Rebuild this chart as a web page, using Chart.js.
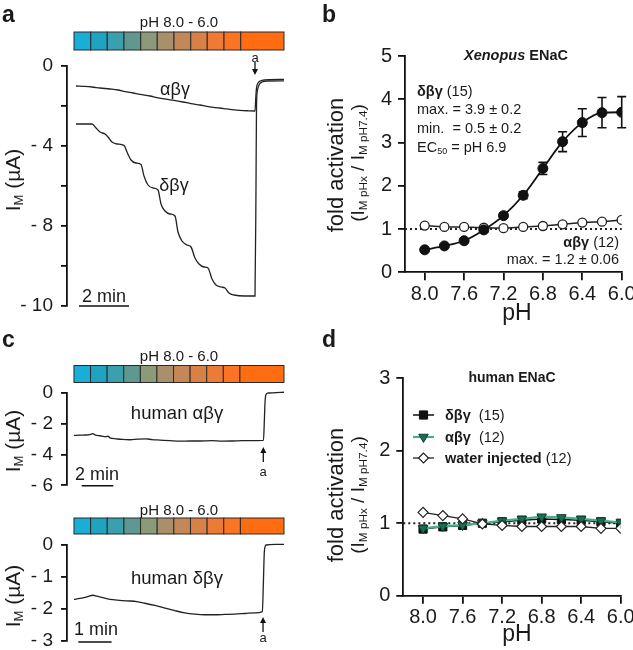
<!DOCTYPE html>
<html>
<head>
<meta charset="utf-8">
<script src="https://cdn.jsdelivr.net/npm/chart.js@4.4.1/dist/chart.umd.min.js"></script>
<style>
  html, body { margin: 0; padding: 0; background: #fff; }
  #fig { position: relative; width: 633px; height: 650px; overflow: hidden;
         font-family: "Liberation Sans", Arial, sans-serif; color: #1a1a1a; }
  #fig canvas { position: absolute; left: 0; top: 0; }
  .t { position: absolute; line-height: 1; white-space: nowrap; }
  .t sub { font-size: 0.62em; vertical-align: -0.3em; line-height: 0; }
</style>
</head>
<body>
<div id="fig">
  <canvas id="chartA" width="633" height="650"></canvas>
  <canvas id="chartB" width="633" height="650"></canvas>
  <canvas id="chartC1" width="633" height="650"></canvas>
  <canvas id="chartC2" width="633" height="650"></canvas>
  <canvas id="chartD" width="633" height="650"></canvas>
</div>
<script>
// ---- pH protocol (same colour code in every recording) ----
const phSteps = [8.0, 7.8, 7.6, 7.4, 7.2, 7.0, 6.8, 6.6, 6.4, 6.2, 6.0];
const phColors = ['#1aaed6', '#1ea4c0', '#3a9fae', '#5e9890', '#8b9a78', '#a98f6c',
                  '#c48758', '#d88147', '#ee7b35', '#fb7424', '#ff6c12'];
const phTicks = [8.0, 7.6, 7.2, 6.8, 6.4, 6.0];

// ---- a: Xenopus ENaC traces (time in min, current in µA) ----
const aStepStart = [0, 0.67, 1.33, 2, 2.67, 3.33, 4, 4.67, 5.33, 6, 6.67];
const aAbgT = [0.08, 0.44, 0.72, 1.04, 1.44, 1.76, 2.04, 2.36, 2.64, 3.04, 3.32, 3.68, 4.0, 4.36,
               4.68, 5.04, 5.32, 5.68, 6.0, 6.32, 6.64, 6.96, 7.24, 7.27, 7.3, 7.36, 7.52, 7.84, 8.4];
const aAbgI = [-1.0, -1.02, -1.05, -1.1, -1.15, -1.2, -1.28, -1.35, -1.42, -1.5, -1.58, -1.66, -1.72, -1.8,
               -1.88, -1.95, -2.02, -2.08, -2.13, -2.18, -2.22, -2.24, -2.25, -1.6, -1.1, -0.85, -0.72, -0.68, -0.67];
const aDbgT = [0.08, 0.72, 0.88, 1.04, 1.24, 1.36, 1.52, 1.72, 2.0, 2.12, 2.28, 2.48, 2.68, 2.8, 2.96,
               3.16, 3.36, 3.48, 3.64, 3.84, 4.04, 4.16, 4.32, 4.52, 4.68, 4.84, 5.0, 5.2, 5.36, 5.52,
               5.68, 5.88, 6.04, 6.2, 6.4, 6.84, 7.24, 7.28, 7.3, 7.34, 7.4, 7.52, 7.76, 8.4];
const aDbgI = [-2.9, -2.9, -3.1, -3.3, -3.4, -3.55, -3.8, -3.9, -3.97, -4.3, -4.7, -4.85, -4.92, -5.5, -5.95,
               -6.1, -6.2, -6.9, -7.25, -7.4, -7.5, -8.3, -8.75, -8.95, -9.05, -9.6, -9.9, -10.05, -10.1, -10.65,
               -10.95, -11.05, -11.1, -11.35, -11.45, -11.5, -11.5, -6.0, -2.0, -1.2, -0.95, -0.8, -0.75, -0.74];
const aTickVals = [0, -2, -4, -6, -8, -10, -12];
const aTickLabels = ['0', '', '- 4', '', '- 8', '', '- 10'];

// ---- c: human ENaC traces ----
const c1StepStart = [0, 1.05, 2.1, 3.15, 4.2, 5.25, 6.3, 7.35, 8.4, 9.45, 10.5];
const c1T = [0, 0.38, 0.76, 1.01, 1.2, 1.33, 1.65, 2.03, 2.15, 2.28, 2.66, 3.04, 3.54, 4.05, 4.56, 4.94,
             5.44, 6.08, 6.71, 7.34, 7.97, 8.73, 9.37, 10.0, 10.63, 11.27, 11.99, 12.04, 12.09, 12.15,
             12.28, 12.78, 13.29];
const c1I = [-2.76, -2.74, -2.73, -2.7, -2.64, -2.72, -2.78, -2.84, -2.8, -2.92, -2.98, -3.02, -3.04, -3.0,
             -2.98, -3.03, -3.06, -3.1, -3.13, -3.12, -3.12, -3.1, -3.13, -3.12, -3.1, -3.09, -3.08, -2.0,
             -0.6, -0.1, 0.0, 0.03, 0.05];
const c1TickVals = [0, -2, -4, -6];
const c1TickLabels = ['0', '- 2', '- 4', '- 6'];

const c2StepStart = [0, 0.5, 1.0, 1.5, 2.0, 2.5, 3.0, 3.5, 4.0, 4.5, 5.0];
const c2T = [0, 0.18, 0.39, 0.57, 0.69, 0.93, 1.17, 1.44, 1.68, 1.89, 2.13, 2.43, 2.73, 3.03, 3.33,
             3.63, 3.93, 4.23, 4.53, 4.83, 5.14, 5.44, 5.66, 5.69, 5.72, 5.77, 6.04, 6.31];
const c2I = [-1.7, -1.67, -1.62, -1.57, -1.6, -1.66, -1.71, -1.74, -1.75, -1.77, -1.82, -1.89, -1.97, -2.05,
             -2.12, -2.16, -2.18, -2.18, -2.17, -2.16, -2.14, -2.12, -2.08, -1.2, -0.2, 0.0, 0.02, 0.02];
const c2TickVals = [0, -1, -2, -3];
const c2TickLabels = ['0', '- 1', '- 2', '- 3'];

// ---- b: Xenopus ENaC pH response (fold activation) ----
const bDbg = [0.52, 0.61, 0.73, 0.98, 1.31, 1.78, 2.40, 3.02, 3.46, 3.69, 3.70];
const bDbgSem = [0.03, 0.03, 0.04, 0.05, 0.06, 0.08, 0.14, 0.23, 0.32, 0.35, 0.36];
const bAbg = [1.08, 1.05, 1.05, 1.03, 1.02, 1.05, 1.07, 1.11, 1.15, 1.17, 1.21];

// ---- d: human ENaC pH response ----
const dDbg = [0.92, 0.95, 0.97, 1.0, 1.02, 1.04, 1.06, 1.05, 1.04, 1.02, 1.0];
const dAbg = [0.93, 0.96, 0.975, 1.0, 1.035, 1.06, 1.09, 1.08, 1.06, 1.035, 1.01];
const dWater = [1.15, 1.105, 1.06, 0.99, 0.97, 0.955, 0.955, 0.955, 0.955, 0.93, 0.93];

// dotted reference line at fold activation = 1
const refPh = [8.2, 6.0];
const refY = [1, 1];

Chart.defaults.font.family = '"Liberation Sans", Arial, sans-serif';
Chart.defaults.color = '#1a1a1a';

const fig = document.getElementById('fig');
const xy = (xs, ys) => xs.map((x, i) => ({ x: x, y: ys[i] }));

function txt(html, x, y, size, opt) {
  opt = opt || {};
  const d = document.createElement('div');
  d.className = 't';
  d.innerHTML = html;
  d.style.left = x + 'px';
  d.style.top = y + 'px';
  d.style.fontSize = size + 'px';
  if (opt.bold) d.style.fontWeight = 'bold';
  const ax = opt.align === 'left' ? '0' : (opt.align === 'right' ? '-100%' : '-50%');
  d.style.transform = 'translate(' + ax + ',-50%)' + (opt.rot ? ' rotate(-90deg)' : '');
  fig.appendChild(d);
}

const axisBorder = { display: true, color: '#111', width: 1.8 };
function tickGrid(len) {
  return { display: true, drawOnChartArea: false, drawTicks: true, tickLength: len, color: '#111', lineWidth: 1.8 };
}

// colour bar, time scale bar and amiloride arrow for current traces
const traceDeco = {
  id: 'traceDeco',
  afterDraw(chart, args, o) {
    const ctx = chart.ctx, xs = chart.scales.x, area = chart.chartArea;
    ctx.save();
    const yb = area.top - o.barGap - o.barH;
    o.steps.forEach((t0, k) => {
      const t1 = k + 1 < o.steps.length ? o.steps[k + 1] : xs.max;
      const x0 = xs.getPixelForValue(t0), x1 = xs.getPixelForValue(t1);
      ctx.fillStyle = phColors[k];
      ctx.fillRect(x0, yb, x1 - x0, o.barH);
      ctx.strokeStyle = '#2a2a2a';
      ctx.lineWidth = 1;
      ctx.strokeRect(x0, yb, x1 - x0, o.barH);
    });
    // scale bar
    const sy = area.bottom + o.sbOff;
    ctx.strokeStyle = '#111';
    ctx.lineWidth = 1.6;
    ctx.beginPath();
    ctx.moveTo(xs.getPixelForValue(o.sb[0]), sy);
    ctx.lineTo(xs.getPixelForValue(o.sb[1]), sy);
    ctx.stroke();
    // arrow
    const ax = xs.getPixelForValue(o.arrowT);
    const dir = o.arrowTip > o.arrowTail ? 1 : -1;
    ctx.lineWidth = 1.3;
    ctx.beginPath();
    ctx.moveTo(ax, o.arrowTail);
    ctx.lineTo(ax, o.arrowTip - dir * 4);
    ctx.stroke();
    ctx.fillStyle = '#111';
    ctx.beginPath();
    ctx.moveTo(ax, o.arrowTip);
    ctx.lineTo(ax - 3, o.arrowTip - dir * 6);
    ctx.lineTo(ax + 3, o.arrowTip - dir * 6);
    ctx.closePath();
    ctx.fill();
    ctx.restore();
  }
};

function traceChart(id, traces, cfg) {
  return new Chart(document.getElementById(id), {
    type: 'line',
    data: {
      datasets: traces.map(tr => ({
        data: xy(tr[0], tr[1]),
        borderColor: '#222', borderWidth: 1.3, pointRadius: 0,
        cubicInterpolationMode: 'monotone', clip: false
      }))
    },
    options: {
      responsive: false, animation: false, events: [],
      layout: { padding: cfg.pad },
      plugins: { legend: { display: false }, tooltip: { enabled: false }, traceDeco: cfg.deco },
      scales: {
        x: { type: 'linear', display: false, min: cfg.xMin, max: cfg.xMax },
        y: {
          min: cfg.yMin, max: 0,
          afterBuildTicks: s => { s.ticks = cfg.tickVals.map(v => ({ value: v })); },
          afterFit: s => { s.width = 50; s.paddingTop = 0; s.paddingBottom = 0; },
          border: axisBorder, grid: tickGrid(6),
          ticks: { autoSkip: false, padding: 8, font: { size: 19 }, color: '#1a1a1a',
                   callback: (v, i) => cfg.tickLabels[i] }
        }
      }
    },
    plugins: [traceDeco]
  });
}

// panel a
traceChart('chartA', [[aAbgT, aAbgI], [aDbgT, aDbgI]], {
  pad: { left: 17, top: 66, right: 349, bottom: 344 },
  xMin: -0.28, xMax: 8.4, yMin: -12, tickVals: aTickVals, tickLabels: aTickLabels,
  deco: { steps: aStepStart, barH: 18, barGap: 16, sb: [0.2, 2.2], sbOff: 0,
          arrowT: 7.24, arrowTail: 62, arrowTip: 75 }
});
// panel c, top
traceChart('chartC1', [[c1T, c1I]], {
  pad: { left: 17, top: 393, right: 349, bottom: 164.7 },
  xMin: -0.44, xMax: 13.29, yMin: -6, tickVals: c1TickVals, tickLabels: c1TickLabels,
  deco: { steps: c1StepStart, barH: 17, barGap: 10.5, sb: [0.49, 2.49], sbOff: 0.5,
          arrowT: 11.98, arrowTail: 462, arrowTip: 447 }
});
// panel c, bottom
traceChart('chartC2', [[c2T, c2I]], {
  pad: { left: 17, top: 545, right: 349, bottom: 9 },
  xMin: -0.21, xMax: 6.31, yMin: -3, tickVals: c2TickVals, tickLabels: c2TickLabels,
  deco: { steps: c2StepStart, barH: 16, barGap: 11, sb: [0.13, 1.13], sbOff: 1,
          arrowT: 5.68, arrowTail: 632, arrowTip: 617 }
});

// SEM error bars for panel b
const errBars = {
  id: 'errBars',
  beforeDatasetsDraw(chart, args, o) {
    const ctx = chart.ctx, xs = chart.scales.x, ys = chart.scales.y;
    ctx.save();
    ctx.strokeStyle = '#111';
    ctx.lineWidth = 1.6;
    phSteps.forEach((ph, i) => {
      const px = xs.getPixelForValue(ph);
      const hi = ys.getPixelForValue(o.y[i] + o.err[i]);
      const lo = ys.getPixelForValue(o.y[i] - o.err[i]);
      ctx.beginPath();
      ctx.moveTo(px, hi); ctx.lineTo(px, lo);
      ctx.moveTo(px - 4.5, hi); ctx.lineTo(px + 4.5, hi);
      ctx.moveTo(px - 4.5, lo); ctx.lineTo(px + 4.5, lo);
      ctx.stroke();
    });
    ctx.restore();
  }
};

// legend symbols for panel d
const legendMarks = {
  id: 'legendMarks',
  afterDraw(chart, args, o) {
    const ctx = chart.ctx;
    o.rows.forEach(r => {
      const ds = chart.data.datasets[r.ds];
      ctx.save();
      ctx.strokeStyle = ds.borderColor;
      ctx.lineWidth = ds.borderWidth;
      ctx.beginPath();
      ctx.moveTo(o.x0, r.y); ctx.lineTo(o.x1, r.y);
      ctx.stroke();
      ctx.fillStyle = ds.pointBackgroundColor;
      ctx.strokeStyle = ds.pointBorderColor;
      ctx.lineWidth = ds.pointBorderWidth;
      Chart.helpers.drawPoint(ctx, {
        pointStyle: ds.pointStyle, rotation: ds.pointRotation || 0,
        radius: ds.pointRadius, borderWidth: ds.pointBorderWidth
      }, (o.x0 + o.x1) / 2, r.y);
      ctx.restore();
    });
  }
};

function phScales(yMax) {
  return {
    x: {
      type: 'linear', reverse: true, min: 6.0, max: 8.2,
      afterBuildTicks: s => { s.ticks = phTicks.map(v => ({ value: v })); },
      afterFit: s => { s.height = 30; s.paddingLeft = 0; s.paddingRight = 0; },
      border: axisBorder, grid: tickGrid(8),
      ticks: { autoSkip: false, maxRotation: 0, padding: 2, font: { size: 20 }, color: '#1a1a1a',
               callback: v => v.toFixed(1) }
    },
    y: {
      min: 0, max: yMax,
      afterFit: s => { s.width = 40; s.paddingTop = 0; s.paddingBottom = 0; },
      border: axisBorder, grid: tickGrid(7),
      ticks: { stepSize: 1, padding: 6, font: { size: 20 }, color: '#1a1a1a' }
    }
  };
}

const refLine = {
  data: xy(refPh, refY), borderColor: '#222', borderWidth: 2, borderDash: [2, 3],
  pointRadius: 0, clip: false
};

// panel b
new Chart(document.getElementById('chartB'), {
  type: 'line',
  data: {
    datasets: [
      { data: xy(phSteps, bDbg), borderColor: '#111', borderWidth: 1.8, cubicInterpolationMode: 'monotone',
        pointRadius: 5, pointBackgroundColor: '#111', pointBorderColor: '#111', pointBorderWidth: 1 },
      { data: xy(phSteps, bAbg), borderColor: '#222', borderWidth: 1.5,
        pointRadius: 4.5, pointBackgroundColor: '#fff', pointBorderColor: '#222', pointBorderWidth: 1.3 },
      refLine
    ]
  },
  options: {
    responsive: false, animation: false, events: [],
    layout: { padding: { left: 365, top: 56, right: 11.3, bottom: 347.7 } },
    plugins: { legend: { display: false }, tooltip: { enabled: false },
               errBars: { y: bDbg, err: bDbgSem } },
    scales: phScales(5)
  },
  plugins: [errBars]
});

// panel d
new Chart(document.getElementById('chartD'), {
  type: 'line',
  data: {
    datasets: [
      { data: xy(phSteps, dWater), borderColor: '#222', borderWidth: 1.3,
        pointStyle: 'rectRot', pointRadius: 5, pointBackgroundColor: '#fff', pointBorderColor: '#222', pointBorderWidth: 1.2 },
      { data: xy(phSteps, dAbg), borderColor: '#45b08f', borderWidth: 2.2,
        pointStyle: 'triangle', pointRotation: 180, pointRadius: 5.5,
        pointBackgroundColor: '#1b6e55', pointBorderColor: '#0e3f30', pointBorderWidth: 1 },
      { data: xy(phSteps, dDbg), borderColor: '#111', borderWidth: 1.5,
        pointStyle: 'rect', pointRadius: 5.8, pointBackgroundColor: '#111', pointBorderColor: '#111', pointBorderWidth: 1 },
      refLine
    ]
  },
  options: {
    responsive: false, animation: false, events: [],
    layout: { padding: { left: 363.3, top: 378.3, right: 12.3, bottom: 24.3 } },
    plugins: { legend: { display: false }, tooltip: { enabled: false },
               legendMarks: { x0: 413, x1: 434, rows: [{ ds: 2, y: 415 }, { ds: 1, y: 437 }, { ds: 0, y: 458 }] } },
    scales: phScales(3)
  },
  plugins: [legendMarks]
});

// ---- text ----
txt('a', 2, 14, 23, { bold: true, align: 'left' });
txt('b', 322, 14, 23, { bold: true, align: 'left' });
txt('c', 2, 339, 23, { bold: true, align: 'left' });
txt('d', 322, 339, 23, { bold: true, align: 'left' });

txt('pH 8.0 - 6.0', 179, 21, 15);
txt('pH 8.0 - 6.0', 179, 355, 15);
txt('pH 8.0 - 6.0', 179, 509, 15);

txt('I<sub>M</sub> (µA)', 12, 180, 21, { rot: true });
txt('I<sub>M</sub> (µA)', 12, 441, 21, { rot: true });
txt('I<sub>M</sub> (µA)', 12, 596, 21, { rot: true });

txt('αβγ', 175, 89, 18);
txt('δβγ', 174, 185, 18);
txt('a', 255, 57, 13);
txt('2 min', 104, 296, 18);

txt('human αβγ', 177, 413, 18.5);
txt('a', 263, 471, 13);
txt('2 min', 97, 474, 18);
txt('human δβγ', 177, 578, 18.5);
txt('a', 263, 637, 13);
txt('1 min', 96, 629, 18);

// b
txt('fold activation', 336, 165, 22, { rot: true });
txt('(I<sub>M pHx</sub> / I<sub>M pH7.4</sub>)', 357, 163, 19, { rot: true });
txt('<i>Xenopus</i> ENaC', 516, 55, 14.5, { bold: true });
txt('<b>δβγ</b> (15)', 417, 91, 14.5, { align: 'left' });
txt('max. = 3.9 ± 0.2', 417, 109, 14.5, { align: 'left' });
txt('min.&nbsp; = 0.5 ± 0.2', 417, 128, 14.5, { align: 'left' });
txt('EC<sub>50</sub> = pH 6.9', 417, 147, 14.5, { align: 'left' });
txt('<b>αβγ</b> (12)', 619, 242, 14.5, { align: 'right' });
txt('max. = 1.2 ± 0.06', 619, 259, 14.5, { align: 'right' });
txt('pH', 517, 312, 23);

// d
txt('fold activation', 336, 495, 22, { rot: true });
txt('(I<sub>M pHx</sub> / I<sub>M pH7.4</sub>)', 357, 495, 19, { rot: true });
txt('human ENaC', 512, 377, 14, { bold: true });
txt('<b>δβγ</b>&nbsp; (15)', 445, 415, 14.5, { align: 'left' });
txt('<b>αβγ</b>&nbsp; (12)', 445, 437, 14.5, { align: 'left' });
txt('<b>water injected</b> (12)', 445, 458, 14.5, { align: 'left' });
txt('pH', 517, 633, 23);
</script>
</body>
</html>
